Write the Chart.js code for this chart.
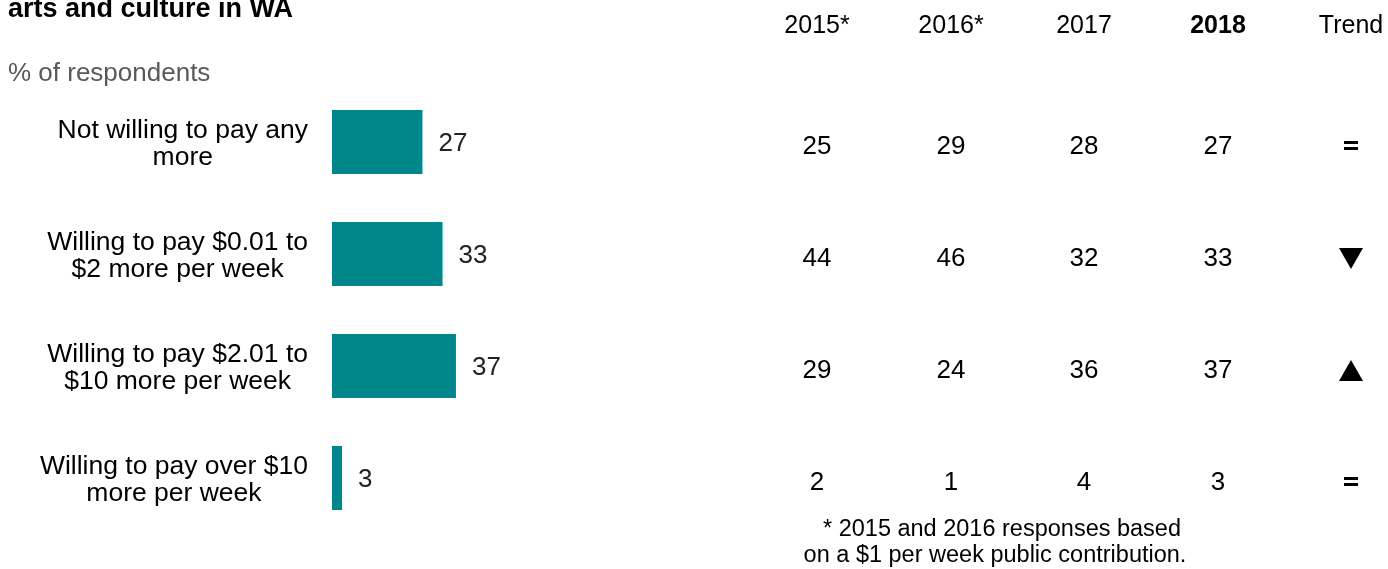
<!DOCTYPE html>
<html>
<head>
<meta charset="utf-8">
<script src="https://cdn.jsdelivr.net/npm/chart.js@4.4.1/dist/chart.umd.min.js"></script>
<style>
  html, body { margin: 0; padding: 0; background: #ffffff; }
  canvas { display: block; }
</style>
</head>
<body>
<canvas id="c" width="1388" height="569"></canvas>
<script>
// Willingness to pay more for arts and culture in WA (% of respondents)
const categories = [
  ['Not willing to pay any', 'more'],
  ['Willing to pay $0.01 to', '$2 more per week'],
  ['Willing to pay $2.01 to', '$10 more per week'],
  ['Willing to pay over $10', 'more per week']
];
const values2018 = [27, 33, 37, 3];

const yearLabels = ['2015*', '2016*', '2017', '2018', 'Trend'];
const values2015 = [25, 44, 29, 2];
const values2016 = [29, 46, 24, 1];
const values2017 = [28, 32, 36, 4];
const trends = ['equal', 'down', 'up', 'equal'];

const footnote = ['* 2015 and 2016 responses based', 'on a $1 per week public contribution.'];

const FONT = '"Liberation Sans", Arial, Helvetica, sans-serif';
const TEAL = '#00868B';

const tablePlugin = {
  id: 'tablePlugin',
  afterDraw(chart) {
    const ctx = chart.ctx;
    const y = chart.scales.y;
    const x = chart.scales.x;
    ctx.save();

    // title (partly above the top edge) and unit line
    ctx.fillStyle = '#000';
    ctx.textAlign = 'left';
    ctx.textBaseline = 'alphabetic';
    ctx.font = 'bold 27px ' + FONT;
    ctx.fillText('arts and culture in WA', 8, 17);
    ctx.fillStyle = '#595959';
    ctx.font = '26px ' + FONT;
    ctx.fillText('% of respondents', 8, 81);

    // category labels: block right-aligned before the bars, lines centred within it
    ctx.fillStyle = '#000';
    ctx.textAlign = 'center';
    ctx.textBaseline = 'middle';
    ctx.font = '26.5px ' + FONT;
    categories.forEach((lines, i) => {
      const cy = y.getPixelForValue(i) + 2;
      const lh = 27;
      const w = Math.max(...lines.map(l => ctx.measureText(l).width));
      const cx = 308 - w / 2;
      const start = cy - (lines.length - 1) * lh / 2;
      lines.forEach((ln, k) => ctx.fillText(ln, cx, start + k * lh));
    });

    // value labels after bars
    ctx.textAlign = 'left';
    ctx.fillStyle = '#222';
    ctx.font = '26px ' + FONT;
    values2018.forEach((v, i) => {
      ctx.fillText(String(v), x.getPixelForValue(v) + 16, y.getPixelForValue(i) + 2);
    });

    // table columns
    const cols = [817, 951, 1084, 1218, 1351];
    ctx.textAlign = 'center';
    ctx.fillStyle = '#000';
    yearLabels.forEach((t, j) => {
      ctx.font = (t === '2018' ? 'bold ' : '') + '25px ' + FONT;
      ctx.fillText(t, cols[j], 26);
    });
    ctx.font = '26px ' + FONT;
    const series = [values2015, values2016, values2017, values2018];
    series.forEach((arr, j) => {
      arr.forEach((v, i) => {
        ctx.fillText(String(v), cols[j], y.getPixelForValue(i) + 5);
      });
    });

    // trend markers
    trends.forEach((t, i) => {
      const cx = cols[4];
      const cy = y.getPixelForValue(i) + 4;
      ctx.fillStyle = '#000';
      if (t === 'equal') {
        ctx.fillRect(cx - 7, cy - 5, 14, 3);
        ctx.fillRect(cx - 7, cy + 1, 14, 3);
      } else {
        ctx.beginPath();
        if (t === 'down') {
          ctx.moveTo(cx - 12, cy - 10);
          ctx.lineTo(cx + 12, cy - 10);
          ctx.lineTo(cx, cy + 11);
        } else {
          ctx.moveTo(cx - 12, cy + 11);
          ctx.lineTo(cx + 12, cy + 11);
          ctx.lineTo(cx, cy - 10);
        }
        ctx.closePath();
        ctx.fill();
      }
    });

    // footnote
    ctx.font = '23.5px ' + FONT;
    ctx.textAlign = 'center';
    ctx.fillStyle = '#000';
    ctx.fillText(footnote[0], 1002, 530);
    ctx.fillText(footnote[1], 995, 556);

    ctx.restore();
  }
};

new Chart(document.getElementById('c'), {
  type: 'bar',
  data: {
    labels: categories.map(l => l.join(' ')),
    datasets: [{
      data: values2018,
      backgroundColor: TEAL,
      borderWidth: 0,
      barPercentage: 0.571,
      categoryPercentage: 1
    }]
  },
  options: {
    indexAxis: 'y',
    responsive: false,
    animation: false,
    layout: { padding: { left: 332, right: 721, top: 86, bottom: 35 } },
    scales: {
      x: { display: false, min: 0, max: 100 },
      y: { display: false }
    },
    plugins: {
      legend: { display: false },
      tooltip: { enabled: false },
      title: { display: false }
    }
  },
  plugins: [tablePlugin]
});
</script>
</body>
</html>
